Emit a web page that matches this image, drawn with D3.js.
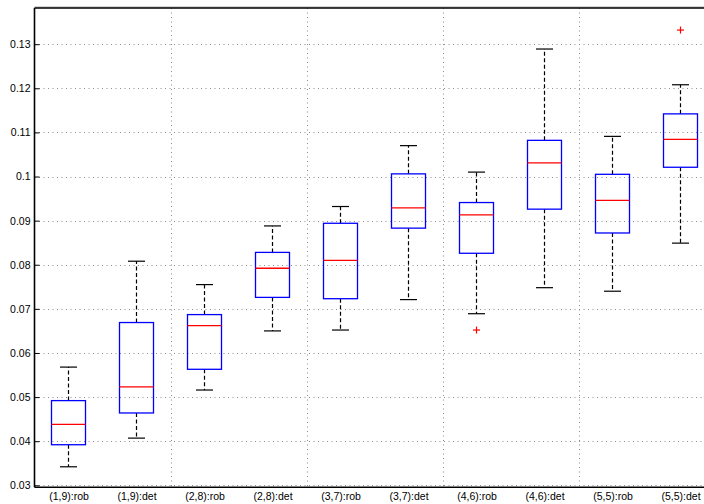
<!DOCTYPE html>
<html>
<head>
<meta charset="utf-8">
<script src="https://cdn.jsdelivr.net/npm/d3@7"></script>
<style>
  html, body { margin: 0; padding: 0; background: #fff; }
  svg { display: block; }
  text { font-family: "Liberation Sans", Arial, Helvetica, sans-serif; }
</style>
</head>
<body>
<svg id="chart" width="704" height="504"></svg>
<script>
// ---- data ----
const categories = ["(1,9):rob", "(1,9):det", "(2,8):rob", "(2,8):det", "(3,7):rob",
                    "(3,7):det", "(4,6):rob", "(4,6):det", "(5,5):rob", "(5,5):det"];
const whiskerLow  = [0.0342, 0.0407, 0.0516, 0.0650, 0.0652, 0.0721, 0.0689, 0.0748, 0.0740, 0.0849];
const q1          = [0.0392, 0.0464, 0.0563, 0.0726, 0.0723, 0.0883, 0.0826, 0.0926, 0.0872, 0.1021];
const medians     = [0.0438, 0.0523, 0.0662, 0.0792, 0.0810, 0.0929, 0.0913, 0.1031, 0.0946, 0.1084];
const q3          = [0.0492, 0.0669, 0.0687, 0.0828, 0.0894, 0.1006, 0.0941, 0.1082, 0.1005, 0.1142];
const whiskerHigh = [0.0568, 0.0808, 0.0755, 0.0888, 0.0932, 0.1070, 0.1010, 0.1289, 0.1091, 0.1208];
const outlierCats   = [7, 10];
const outlierValues = [0.0652, 0.1332];
const yTicks = [0.03, 0.04, 0.05, 0.06, 0.07, 0.08, 0.09, 0.1, 0.11, 0.12, 0.13];
const xGridTicks = [2.5, 4.5, 6.5, 8.5];

(function () {
// ---- layout ----
const svg = d3.select("#chart");
const mLeft = 34.5, mRight = 714.5, mTop = 8, mBottom = 487.3;

const x = d3.scaleLinear().domain([0.5, 10.5]).range([mLeft, mRight]);
const y = d3.scaleLinear().domain([0.02955, 0.1382]).range([mBottom, mTop]);

const g = svg.append("g");

// grid
const gridStyle = sel => sel.attr("stroke", "#8c8c8c").attr("stroke-width", 1)
  .attr("stroke-dasharray", "1,3.5").attr("fill", "none");

g.append("g").selectAll("line").data(yTicks).join("line")
  .attr("x1", mLeft).attr("x2", mRight)
  .attr("y1", d => Math.round(y(d)) + 0.5).attr("y2", d => Math.round(y(d)) + 0.5)
  .call(gridStyle);

g.append("g").selectAll("line").data(xGridTicks).join("line")
  .attr("x1", d => Math.round(x(d)) + 0.5).attr("x2", d => Math.round(x(d)) + 0.5)
  .attr("y1", mTop).attr("y2", mBottom)
  .call(gridStyle);

// boxes
const idx = d3.range(categories.length);
const boxW = 0.25, capW = 0.125;
const dash = "4,2.5";

const bx = g.append("g");
// whiskers
bx.selectAll(".wu").data(idx).join("line")
  .attr("x1", i => x(i + 1)).attr("x2", i => x(i + 1))
  .attr("y1", i => y(q3[i])).attr("y2", i => y(whiskerHigh[i]))
  .attr("stroke", "#000").attr("stroke-width", 1.2).attr("stroke-dasharray", dash);
bx.selectAll(".wl").data(idx).join("line")
  .attr("x1", i => x(i + 1)).attr("x2", i => x(i + 1))
  .attr("y1", i => y(q1[i])).attr("y2", i => y(whiskerLow[i]))
  .attr("stroke", "#000").attr("stroke-width", 1.2).attr("stroke-dasharray", dash);
// caps
bx.selectAll(".cu").data(idx).join("line")
  .attr("x1", i => x(i + 1 - capW)).attr("x2", i => x(i + 1 + capW))
  .attr("y1", i => y(whiskerHigh[i])).attr("y2", i => y(whiskerHigh[i]))
  .attr("stroke", "#000").attr("stroke-width", 1.2);
bx.selectAll(".cl").data(idx).join("line")
  .attr("x1", i => x(i + 1 - capW)).attr("x2", i => x(i + 1 + capW))
  .attr("y1", i => y(whiskerLow[i])).attr("y2", i => y(whiskerLow[i]))
  .attr("stroke", "#000").attr("stroke-width", 1.2);
// box
bx.selectAll("rect").data(idx).join("rect")
  .attr("x", i => x(i + 1 - boxW)).attr("width", i => x(i + 1 + boxW) - x(i + 1 - boxW))
  .attr("y", i => y(q3[i])).attr("height", i => y(q1[i]) - y(q3[i]))
  .attr("fill", "none").attr("stroke", "#0000ff").attr("stroke-width", 1.3);
// median
bx.selectAll(".md").data(idx).join("line")
  .attr("x1", i => x(i + 1 - boxW)).attr("x2", i => x(i + 1 + boxW))
  .attr("y1", i => y(medians[i])).attr("y2", i => y(medians[i]))
  .attr("stroke", "#ff0000").attr("stroke-width", 1.3);
// outliers
const oi = d3.range(outlierCats.length);
const ps = 3.5;
const og = bx.selectAll(".out").data(oi).join("g")
  .attr("transform", i => `translate(${x(outlierCats[i])},${y(outlierValues[i])})`);
og.append("line").attr("x1", -ps).attr("x2", ps).attr("y1", 0).attr("y2", 0)
  .attr("stroke", "#ff0000").attr("stroke-width", 1.2);
og.append("line").attr("x1", 0).attr("x2", 0).attr("y1", -ps).attr("y2", ps)
  .attr("stroke", "#ff0000").attr("stroke-width", 1.2);

// axes
const yAxis = d3.axisLeft(y).tickValues(yTicks).tickSize(-5).tickPadding(4)
  .tickFormat(d => String(+d.toFixed(2)));
const ya = svg.append("g").attr("transform", `translate(${mLeft},0)`).call(yAxis);
ya.select(".domain").remove();
ya.selectAll(".tick line").attr("stroke", "#000");
ya.selectAll("text").attr("font-size", "10.5px").attr("fill", "#000")
  .style("font-family", "'Liberation Sans', Arial, sans-serif");

const xAxis = d3.axisBottom(x).tickValues(idx.map(i => i + 1)).tickSize(0).tickPadding(5)
  .tickFormat(d => categories[d - 1]);
const xa = svg.append("g").attr("transform", `translate(0,${mBottom})`).call(xAxis);
xa.select(".domain").remove();
xa.selectAll("text").attr("font-size", "10.5px").attr("fill", "#000")
  .style("font-family", "'Liberation Sans', Arial, sans-serif");

// frame
svg.append("line").attr("x1", mLeft).attr("x2", mRight).attr("y1", mTop - 1).attr("y2", mTop - 1)
  .attr("stroke", "#aaa").attr("stroke-width", 1);
svg.append("line").attr("x1", mLeft).attr("x2", mRight).attr("y1", mTop).attr("y2", mTop)
  .attr("stroke", "#000").attr("stroke-width", 1.4);
svg.append("line").attr("x1", mLeft).attr("x2", mRight).attr("y1", mBottom).attr("y2", mBottom)
  .attr("stroke", "#000").attr("stroke-width", 1.6);
svg.append("line").attr("x1", mLeft).attr("x2", mLeft).attr("y1", mTop).attr("y2", mBottom)
  .attr("stroke", "#000").attr("stroke-width", 1.6);
})();
</script>
</body>
</html>
